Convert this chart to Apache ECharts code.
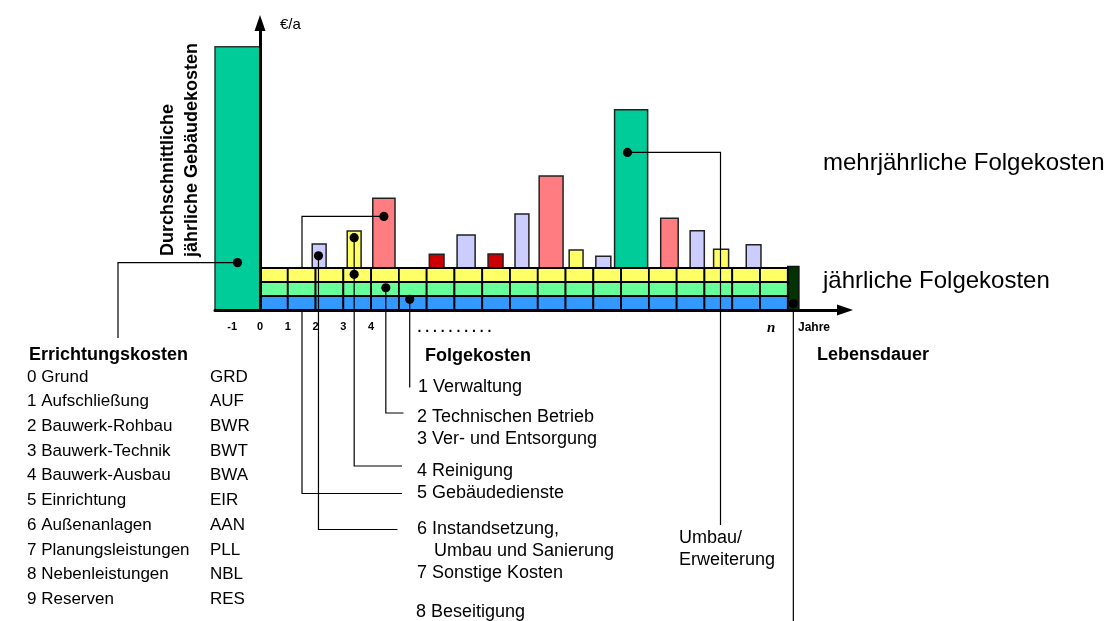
<!DOCTYPE html>
<html>
<head>
<meta charset="utf-8">
<title>Lebenszykluskosten eines Gebäudes</title>
<script src="https://cdn.jsdelivr.net/npm/echarts@6/dist/echarts.min.js"></script>
<style>
  html, body { margin: 0; padding: 0; background: #fff; }
  #chart { width: 1113px; height: 621px; }
</style>
</head>
<body>
<div id="chart"></div>
<script>
// ---- Daten -------------------------------------------------------------
// Jahre der Nutzungsphase (0 … n)
const years = [0, 1, 2, 3, 4, 5, 6, 7, 8, 9, 10, 11, 12, 13, 14, 15, 16, 17, 18];

// jährliche Folgekosten je Jahr (Schichten von unten nach oben)
const annualVerwaltung = [1, 1, 1, 1, 1, 1, 1, 1, 1, 1, 1, 1, 1, 1, 1, 1, 1, 1, 1];
const annualTechnik    = [1, 1, 1, 1, 1, 1, 1, 1, 1, 1, 1, 1, 1, 1, 1, 1, 1, 1, 1];
const annualReinigung  = [1, 1, 1, 1, 1, 1, 1, 1, 1, 1, 1, 1, 1, 1, 1, 1, 1, 1, 1];

// mehrjährliche Folgekosten: Zeitpunkt (Jahr), Betrag (€/a) und Kostenart
const periodicYear = [2.13, 3.39, 4.46, 6.36, 7.42, 8.48, 9.43, 10.48, 11.38, 12.36, 13.36, 14.74, 15.74, 16.6, 17.77];
const periodicCost = [1.71, 2.64, 4.98, 0.98, 2.36, 1.0, 3.86, 6.57, 1.29, 0.84, 11.31, 3.55, 2.66, 1.34, 1.66];
const periodicType = ['Instandsetzung', 'Reinigung', 'Gebäudedienste', 'Sonstige', 'Instandsetzung',
                      'Sonstige', 'Instandsetzung', 'Gebäudedienste', 'Reinigung', 'Instandsetzung',
                      'Umbau', 'Gebäudedienste', 'Instandsetzung', 'Reinigung', 'Instandsetzung'];

// Errichtungskosten (Jahr -1) und Beseitigung am Ende der Lebensdauer
const constructionYear = -0.81;
const constructionCost = 18.8;
const disposalYear = 19.2;
const disposalCost = 3.1;

// Achsbeschriftung
const tickValues = [-1, 0, 1, 2, 3, 4, 7, 18.4];
const tickLabels = ['-1', '0', '1', '2', '3', '4', '. . . . . . . . . .', 'n'];

// Texte
const constructionGroups = ['0 Grund', '1 Aufschließung', '2 Bauwerk-Rohbau', '3 Bauwerk-Technik',
  '4 Bauwerk-Ausbau', '5 Einrichtung', '6 Außenanlagen', '7 Planungsleistungen', '8 Nebenleistungen', '9 Reserven'];
const constructionCodes = ['GRD', 'AUF', 'BWR', 'BWT', 'BWA', 'EIR', 'AAN', 'PLL', 'NBL', 'RES'];

// ---- Darstellung -------------------------------------------------------
const FONT = "'Liberation Sans', Arial, Helvetica, sans-serif";
const annualRows = [annualVerwaltung, annualTechnik, annualReinigung];
const annualColors = ['#3399FF', '#66FF99', '#FFFF66'];
const typeColors = {
  'Instandsetzung': '#CCCCFF',
  'Reinigung': '#FFFF66',
  'Gebäudedienste': '#FF7C80',
  'Sonstige': '#CC0000',
  'Umbau': '#00CC99'
};
// Balkenbreiten in Jahren
const barSpan = [0.5, 0.5, 0.8, 0.53, 0.65, 0.54, 0.5, 0.86, 0.5, 0.54, 1.19, 0.63, 0.51, 0.54, 0.53];
const constructionSpan = 1.62;
const disposalSpan = 0.4;

function annualTotal(i) {
  let s = 0;
  annualRows.forEach(r => { s += r[i]; });
  return s;
}
function baseAt(x) {
  const i = Math.max(0, Math.min(years.length - 1, Math.floor(x)));
  return annualTotal(i);
}
function box(api, x0, x1, y0, y1, style) {
  const a = api.coord([x0, y1]);
  const b = api.coord([x1, y0]);
  return { type: 'rect', shape: { x: a[0], y: a[1], width: b[0] - a[0], height: b[1] - a[1] }, style: style };
}

// Zellen der jährlichen Folgekosten
const cellData = [];
annualRows.forEach((row, r) => {
  years.forEach((y, i) => { cellData.push([y, r, row[i]]); });
});

const chart = echarts.init(document.getElementById('chart'), null, { renderer: 'canvas' });

const axisLine = {
  onZero: true,
  symbol: ['none', 'triangle'],
  symbolSize: [11, 16],
  lineStyle: { color: '#000', width: 3 }
};

chart.setOption({
  animation: false,
  backgroundColor: '#ffffff',
  grid: { left: 215, right: 268, top: 23, bottom: 311, outerBoundsMode: 'none' },
  xAxis: {
    type: 'value', min: -1.62, max: 21.06, z: 8,
    axisLine: axisLine,
    axisTick: { show: false },
    splitLine: { show: false },
    axisLabel: {
      customValues: tickValues,
      margin: 11,
      color: '#000',
      fontFamily: FONT,
      fontSize: 11,
      fontWeight: 'bold',
      formatter: function (v) {
        const i = tickValues.indexOf(v);
        const t = i >= 0 ? tickLabels[i] : '';
        if (t === 'n') return '{n|n}';
        if (t.charAt(0) === '.') return '{d|' + t + '}';
        return t;
      },
      rich: {
        n: { fontFamily: "'Liberation Serif', 'Times New Roman', serif", fontStyle: 'italic', fontWeight: 'bold', fontSize: 15, color: '#000' },
        d: { fontFamily: FONT, fontSize: 14, fontWeight: 'bold', color: '#000' }
      }
    }
  },
  yAxis: {
    type: 'value', min: 0, max: 20.5, z: 8,
    axisLine: axisLine,
    axisTick: { show: false },
    axisLabel: { show: false },
    splitLine: { show: false }
  },
  series: [
    {
      name: 'Errichtungskosten', type: 'custom', z: 2,
      data: [[constructionYear, constructionCost]],
      renderItem: function (params, api) {
        const x = api.value(0), v = api.value(1);
        return box(api, x - constructionSpan / 2, x + constructionSpan / 2, 0, v,
          { fill: '#00CC99', stroke: '#333', lineWidth: 1.5 });
      }
    },
    {
      name: 'mehrjährliche Folgekosten', type: 'custom', z: 2,
      data: periodicYear.map((y, i) => [y, periodicCost[i]]),
      renderItem: function (params, api) {
        const i = params.dataIndex;
        const x = api.value(0), v = api.value(1);
        const b = baseAt(x);
        return box(api, x - barSpan[i] / 2, x + barSpan[i] / 2, b, b + v,
          { fill: typeColors[periodicType[i]], stroke: '#222', lineWidth: 1.5 });
      }
    },
    {
      name: 'Beseitigung', type: 'custom', z: 2,
      data: [[disposalYear, disposalCost]],
      renderItem: function (params, api) {
        const x = api.value(0), v = api.value(1);
        return box(api, x - disposalSpan / 2, x + disposalSpan / 2, 0, v,
          { fill: '#003300', stroke: '#111', lineWidth: 1.5 });
      }
    },
    {
      name: 'jährliche Folgekosten', type: 'custom', z: 5,
      data: cellData,
      renderItem: function (params, api) {
        const y = api.value(0), r = api.value(1), v = api.value(2);
        let b = 0;
        for (let k = 0; k < r; k++) b += annualRows[k][y];
        return box(api, y, y + 1, b, b + v,
          { fill: annualColors[r], stroke: '#000', lineWidth: 1.8 });
      }
    }
  ]
});

// ---- Hinweislinien und Beschriftungen ---------------------------------
const px = p => chart.convertToPixel({ gridIndex: 0 }, p);

// Punkt innerhalb eines Balkens (Anteil der Breite / Höhe)
function inBar(x, span, y0, h, fx, fy) {
  return px([x - span / 2 + fx * span, y0 + fy * h]);
}
// Punkt innerhalb einer Jahreszelle
function inCell(yearIdx, row, fx, fy) {
  let b = 0;
  for (let k = 0; k < row; k++) b += annualRows[k][yearIdx];
  return px([years[yearIdx] + fx, b + fy * annualRows[row][yearIdx]]);
}
function pb(i, fx, fy) {
  const b = baseAt(periodicYear[i]);
  return inBar(periodicYear[i], barSpan[i], b, periodicCost[i], fx, fy);
}

const dConstr = inBar(constructionYear, constructionSpan, 0, constructionCost, 0.5, 0.18);
const dLav = pb(0, 0.45, 0.51);
const dYel = pb(1, 0.5, 0.82);
const dPink = pb(2, 0.5, 0.74);
const dUmbau = pb(10, 0.39, 0.73);
const dRowRein = inCell(3, 2, 0.39, 0.55);
const dRowTech = inCell(4, 1, 0.53, 0.59);
const dRowVerw = inCell(5, 0, 0.39, 0.76);
const dDisp = inBar(disposalYear, disposalSpan, 0, disposalCost, 0.5, 0.15);

function leader(points, z) {
  return { type: 'polyline', z: z || 10, silent: true,
    shape: { points: points },
    style: { stroke: '#000', lineWidth: 1.2, fill: null } };
}
function dot(p) {
  return { type: 'circle', z: 11, silent: true, shape: { cx: p[0], cy: p[1], r: 4.6 }, style: { fill: '#000' } };
}
function txt(text, x, y, size, weight, extra) {
  return Object.assign({
    type: 'text', z: 12, silent: true,
    style: { text: text, x: x, y: y, fill: '#000', fontFamily: FONT, fontSize: size,
      fontWeight: weight || 'normal', align: 'left', verticalAlign: 'middle' }
  }, extra || {});
}

const graphics = [
  leader([dConstr, [118, dConstr[1]], [118, 338]]),
  leader([dLav, [dLav[0], 529.5], [397.5, 529.5]]),
  leader([dYel, [dYel[0], 466], [402, 466]]),
  leader([dPink, [302, dPink[1]], [302, 493.5], [402, 493.5]], 3),
  leader([dRowTech, [dRowTech[0], 413], [403.5, 413]]),
  leader([dRowVerw, [dRowVerw[0], 387.5]]),
  leader([dUmbau, [720.5, dUmbau[1]], [720.5, 525]]),
  leader([dDisp, [dDisp[0], 625]]),
  dot(dConstr), dot(dLav), dot(dYel), dot(dPink), dot(dUmbau),
  dot(dRowRein), dot(dRowTech), dot(dRowVerw), dot(dDisp),

  txt('€/a', 280, 25, 15),
  txt('Durchschnittliche', 0, 0, 18, 'bold', { x: 168, y: 256, rotation: Math.PI / 2 }),
  txt('jährliche Gebäudekosten', 0, 0, 18, 'bold', { x: 192, y: 257, rotation: Math.PI / 2 }),
  txt('mehrjährliche Folgekosten', 823, 163, 24),
  txt('jährliche Folgekosten', 823, 281, 24),
  txt('Jahre', 798, 328, 12, 'bold'),
  txt('Lebensdauer', 817, 355, 18, 'bold'),
  txt('Errichtungskosten', 29, 355, 18, 'bold'),
  txt('Folgekosten', 425, 356, 18, 'bold'),
  txt('1 Verwaltung', 418, 387, 18),
  txt('2 Technischen Betrieb', 417, 417.5, 18),
  txt('3 Ver- und Entsorgung', 417, 439.5, 18),
  txt('4 Reinigung', 417, 471, 18),
  txt('5 Gebäudedienste', 417, 493.5, 18),
  txt('6 Instandsetzung,', 417, 529.5, 18),
  txt('Umbau und Sanierung', 434, 551.5, 18),
  txt('7 Sonstige Kosten', 417, 573.5, 18),
  txt('8 Beseitigung', 416, 612.5, 18),
  txt('Umbau/', 679, 538.5, 18),
  txt('Erweiterung', 679, 560, 18)
];
constructionGroups.forEach((g, i) => {
  const y = 377 + i * 24.7;
  graphics.push(txt(g, 27, y, 17));
  graphics.push(txt(constructionCodes[i], 210, y, 17));
});

chart.setOption({ graphic: { elements: graphics } });
</script>
</body>
</html>
